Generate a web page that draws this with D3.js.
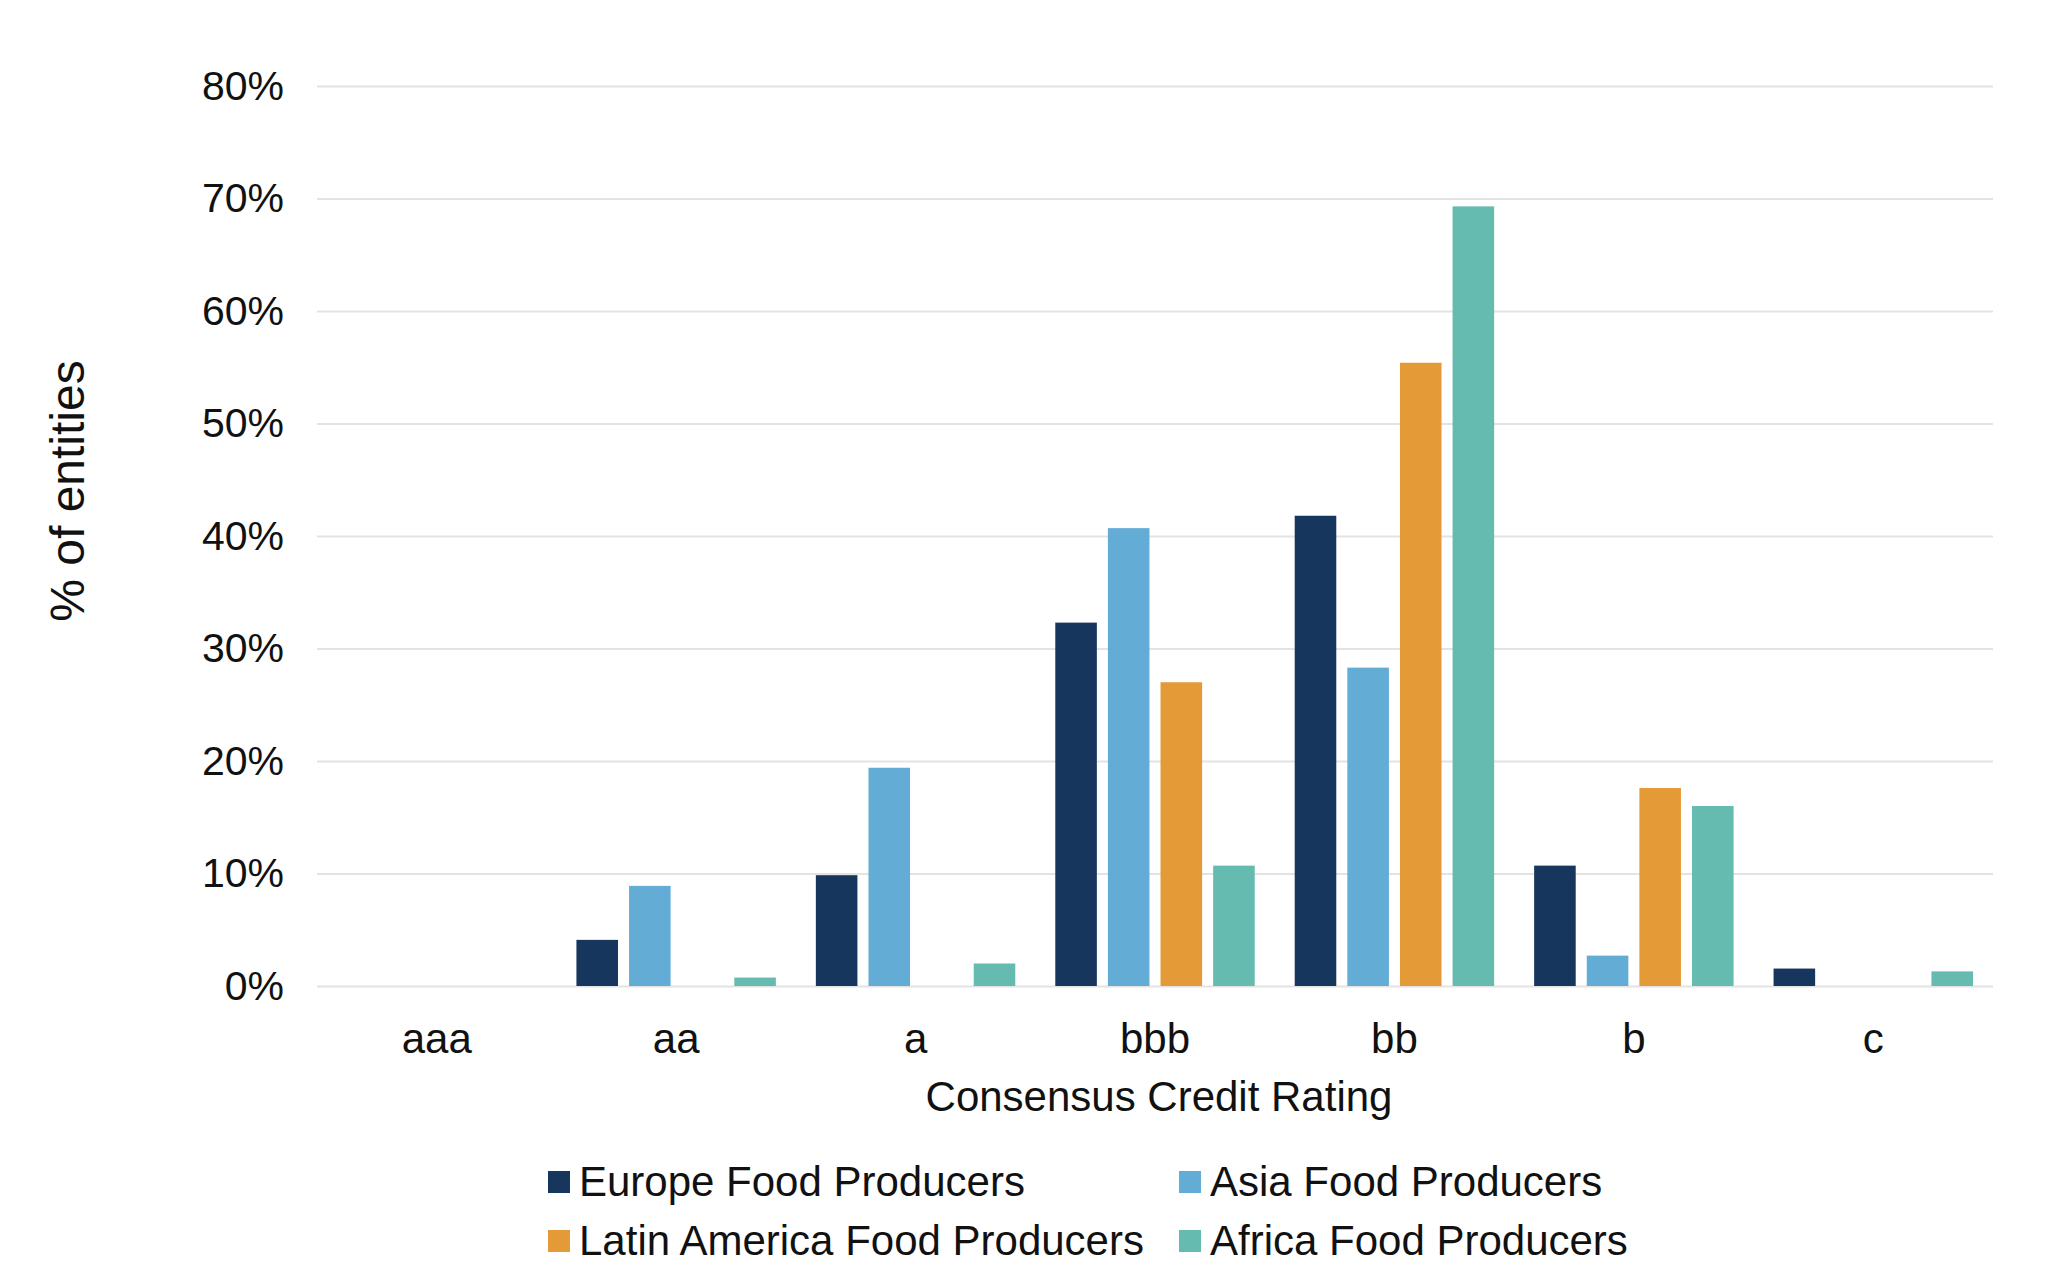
<!DOCTYPE html>
<html>
<head>
  <meta charset="utf-8">
  <title>Consensus Credit Rating</title>
  <script src="https://cdnjs.cloudflare.com/ajax/libs/d3/7.8.5/d3.min.js"></script>
  <style>
    body { margin: 0; background: #fff; }
    text { font-family: "Liberation Sans", Arial, sans-serif; fill: #111; }
  </style>
</head>
<body>
<script type="text/javascript">
  // rating buckets along the x axis
  var ratings = ["aaa", "aa", "a", "bbb", "bb", "b", "c"];

  // series names, one per region
  var series = ["Europe Food Producers", "Asia Food Producers",
                "Latin America Food Producers", "Africa Food Producers"];

  // % of entities per rating
  var europe  = [0, 4.1, 9.85, 32.3, 41.8, 10.7, 1.55];
  var asia    = [0, 8.9, 19.4, 40.7, 28.3, 2.7, 0];
  var latam   = [0, 0, 0, 27.0, 55.4, 17.6, 0];
  var africa  = [0, 0.75, 2.0, 10.7, 69.3, 16.0, 1.3];

  var yTicks = [0, 10, 20, 30, 40, 50, 60, 70, 80];

  var colors = ["#17365e", "#63acd5", "#e59a38", "#65bbaf"];

  var width = 2048, height = 1280;
  var margin = {top: 86, right: 55, bottom: 294, left: 317};

  var svg = d3.select("body")
    .append("svg")
    .attr("width", width)
    .attr("height", height);

  var x0 = d3.scaleBand()
    .domain(ratings)
    .range([margin.left, width - margin.right])
    .padding(0);

  var x1 = d3.scaleBand()
    .domain(series)
    .range([0, x0.bandwidth()])
    .paddingInner(0.21)
    .paddingOuter(0.38);

  var y = d3.scaleLinear()
    .domain([0, 80])
    .range([height - margin.bottom, margin.top]);

  var color = d3.scaleOrdinal().domain(series).range(colors);

  // gridlines + y labels
  var yAxis = svg.append("g")
    .attr("transform", "translate(" + margin.left + ",0)")
    .call(d3.axisLeft(y)
      .tickValues(yTicks)
      .tickSize(-(width - margin.left - margin.right))
      .tickPadding(33)
      .tickFormat(function (d) { return d + "%"; }));
  yAxis.select(".domain").remove();
  yAxis.selectAll(".tick line").attr("stroke", "#e3e3e3").attr("stroke-width", 2);
  yAxis.selectAll(".tick text")
    .attr("font-size", 41)
    .attr("fill", "#111")
    .style("font-family", "'Liberation Sans', Arial, sans-serif");

  // x labels
  var xAxis = svg.append("g")
    .attr("transform", "translate(0," + (height - margin.bottom) + ")")
    .call(d3.axisBottom(x0).tickSize(0).tickPadding(37));
  xAxis.select(".domain").remove();
  xAxis.selectAll(".tick text")
    .attr("font-size", 42)
    .attr("fill", "#111")
    .style("font-family", "'Liberation Sans', Arial, sans-serif");

  // bars
  var table = ratings.map(function (r, i) {
    return {rating: r, values: [europe[i], asia[i], latam[i], africa[i]]};
  });

  var groups = svg.append("g")
    .selectAll("g")
    .data(table)
    .enter()
    .append("g")
    .attr("transform", function (d) { return "translate(" + x0(d.rating) + ",0)"; });

  groups.selectAll("rect")
    .data(function (d) {
      return d.values.map(function (v, j) { return {key: series[j], value: v}; });
    })
    .enter()
    .filter(function (d) { return d.value > 0; })
    .append("rect")
    .attr("x", function (d) { return x1(d.key); })
    .attr("width", x1.bandwidth())
    .attr("y", function (d) { return y(d.value); })
    .attr("height", function (d) { return y(0) - y(d.value); })
    .attr("fill", function (d) { return color(d.key); });

  // axis titles
  svg.append("text")
    .attr("x", (margin.left + width - margin.right) / 2 + 4)
    .attr("y", 1111)
    .attr("text-anchor", "middle")
    .attr("font-size", 42)
    .text("Consensus Credit Rating");

  svg.append("text")
    .attr("transform", "translate(84,491) rotate(-90)")
    .attr("text-anchor", "middle")
    .attr("font-size", 48)
    .text("% of entities");

  // legend, 2 x 2
  var legendPos = [[548, 1171], [1179, 1171], [548, 1230], [1179, 1230]];
  var legend = svg.append("g")
    .selectAll("g")
    .data(series)
    .enter()
    .append("g")
    .attr("transform", function (d, i) {
      return "translate(" + legendPos[i][0] + "," + legendPos[i][1] + ")";
    });

  legend.append("rect")
    .attr("width", 22)
    .attr("height", 22)
    .attr("fill", function (d) { return color(d); });

  legend.append("text")
    .attr("x", 31)
    .attr("y", 25)
    .attr("font-size", 42)
    .text(function (d) { return d; });
</script>
</body>
</html>
